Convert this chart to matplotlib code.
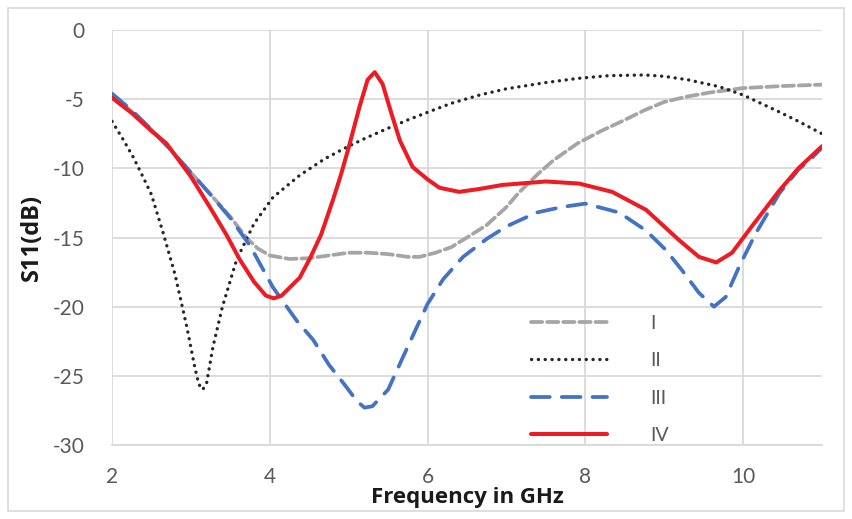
import matplotlib.pyplot as plt
from matplotlib.patches import Rectangle

plt.rcParams["axes.unicode_minus"] = False

# Curve I (gray dashed)
freq_1 = [2.0, 2.25, 2.5, 2.75, 3.0, 3.25, 3.5, 3.7, 3.85, 4.0, 4.25, 4.5, 4.75, 5.0,
          5.25, 5.5, 5.75, 5.9, 6.1, 6.3, 6.5, 6.75, 7.0, 7.15, 7.4, 7.6, 7.9, 8.2,
          8.5, 8.75, 9.0, 9.3, 9.6, 10.0, 10.5, 11.0]
s11_1 = [-4.7, -5.9, -7.2, -8.7, -10.3, -11.9, -13.5, -15.0, -15.8, -16.3, -16.55,
         -16.5, -16.3, -16.1, -16.1, -16.2, -16.4, -16.4, -16.1, -15.7, -15.0, -14.1,
         -12.8, -11.8, -10.4, -9.4, -8.2, -7.3, -6.5, -5.8, -5.2, -4.8, -4.5, -4.2,
         -4.05, -3.95]

# Curve II (black dotted)
freq_2 = [2.0, 2.15, 2.27, 2.4, 2.5, 2.65, 2.8, 2.95, 3.05, 3.1, 3.15, 3.2, 3.28, 3.4,
          3.58, 3.8, 4.04, 4.38, 4.7, 5.0, 5.22, 5.5, 5.75, 6.0, 6.3, 6.66, 7.0, 7.5,
          7.9, 8.3, 8.75, 9.0, 9.3, 9.7, 10.0, 10.45, 10.7, 11.0]
s11_2 = [-6.6, -8.0, -9.2, -10.7, -11.9, -14.7, -17.7, -21.5, -24.4, -25.6, -26.0,
         -25.5, -22.9, -20.0, -16.6, -14.0, -12.1, -10.5, -9.3, -8.4, -7.8, -7.1,
         -6.5, -5.95, -5.3, -4.7, -4.25, -3.8, -3.5, -3.3, -3.25, -3.35, -3.6, -4.1,
         -4.7, -5.9, -6.6, -7.5]

# Curve III (blue dashed)
freq_3 = [2.0, 2.25, 2.5, 2.75, 3.0, 3.25, 3.5, 3.75, 4.04, 4.34, 4.55, 4.75, 4.97,
          5.1, 5.2, 5.3, 5.5, 5.7, 6.0, 6.2, 6.45, 6.75, 7.0, 7.38, 7.7, 8.0, 8.43,
          8.77, 9.02, 9.23, 9.44, 9.63, 9.78, 9.95, 10.16, 10.46, 10.7, 10.88, 11.0]
s11_3 = [-4.6, -5.8, -7.2, -8.7, -10.3, -11.9, -13.6, -15.6, -18.6, -21.0, -22.4,
         -24.2, -25.8, -26.8, -27.3, -27.2, -26.0, -23.5, -19.8, -18.0, -16.4, -15.1,
         -14.2, -13.2, -12.8, -12.55, -13.2, -14.5, -15.9, -17.4, -19.0, -20.0, -19.3,
         -17.1, -14.7, -11.8, -10.1, -9.2, -8.5]

# Curve IV (red solid)
freq_4 = [2.0, 2.25, 2.5, 2.69, 3.0, 3.24, 3.45, 3.62, 3.8, 3.95, 4.05, 4.15, 4.38,
          4.51, 4.65, 4.8, 4.9, 5.0, 5.07, 5.14, 5.24, 5.33, 5.43, 5.54, 5.65, 5.81,
          6.0, 6.15, 6.4, 6.65, 6.95, 7.5, 7.92, 8.34, 8.77, 9.19, 9.44, 9.66, 9.86,
          10.11, 10.46, 10.7, 11.0]
s11_4 = [-4.9, -6.0, -7.3, -8.2, -10.6, -12.8, -14.8, -16.6, -18.2, -19.2, -19.4,
         -19.2, -17.9, -16.5, -14.8, -12.3, -10.5, -8.5, -7.0, -5.5, -3.6, -3.05,
         -3.9, -6.0, -8.0, -9.9, -10.8, -11.4, -11.7, -11.5, -11.2, -10.95, -11.1,
         -11.7, -13.0, -15.2, -16.4, -16.8, -16.1, -14.2, -11.6, -10.0, -8.4]

series_labels = ["I", "II", "III", "IV"]

text_gray = "#595959"
grid_gray = "#D9D9D9"

fig = plt.figure(figsize=(8.52, 5.19), dpi=100)
ax = fig.add_axes([112 / 852, 1 - 445 / 519, 710 / 852, 415 / 519])

ax.plot(freq_1, s11_1, color="#A5A5A5", lw=2.7, linestyle=(0, (3, 1.3)),
        dash_capstyle="round", dash_joinstyle="round", label=series_labels[0])
ax.plot(freq_2, s11_2, color="#262626", lw=2.4, linestyle=(0, (0.05, 2.0)),
        dash_capstyle="round", label=series_labels[1])
ax.plot(freq_3, s11_3, color="#4472C4", lw=2.7, linestyle=(0, (5, 3.2)),
        dash_capstyle="round", dash_joinstyle="round", label=series_labels[2])
ax.plot(freq_4, s11_4, color="#ED1C24", lw=2.9, solid_capstyle="round",
        solid_joinstyle="round", label=series_labels[3])

ax.set_xlim(2, 11)
ax.set_ylim(-30, 0)
ax.set_xticks([2, 4, 6, 8, 10])
ax.set_yticks([0, -5, -10, -15, -20, -25, -30])
ax.grid(True, color=grid_gray, lw=1.3)
ax.set_axisbelow(True)
for side in ["top", "right", "left"]:
    ax.spines[side].set_visible(False)
ax.spines["bottom"].set_color(grid_gray)
ax.spines["bottom"].set_linewidth(1.3)
ax.tick_params(length=0, labelsize=15, labelcolor=text_gray)
ax.tick_params(axis="x", pad=16)
ax.tick_params(axis="y", pad=20)
for lbl in ax.get_xticklabels() + ax.get_yticklabels():
    lbl.set_family("Lato")

ax.set_xlabel("Frequency in GHz", fontsize=16, fontweight="bold", family="Open Sans",
              labelpad=0, color="#1a1a1a")
ax.set_ylabel("S11(dB)", fontsize=17, fontweight="bold", family="Open Sans",
              labelpad=6, color="#1a1a1a")

leg = ax.legend(loc="lower left", bbox_to_anchor=(0.566, -0.04), frameon=False,
                handlelength=3.9, handletextpad=2.2, labelspacing=1.05,
                prop={"family": "Lato", "size": 14})
for t in leg.get_texts():
    t.set_color(text_gray)

fig.patches.append(Rectangle((8 / 852, 8 / 519), 836 / 852, 503 / 519,
                             transform=fig.transFigure, fill=False,
                             edgecolor=grid_gray, lw=1.2))

fig.savefig("out.png", dpi=100)
